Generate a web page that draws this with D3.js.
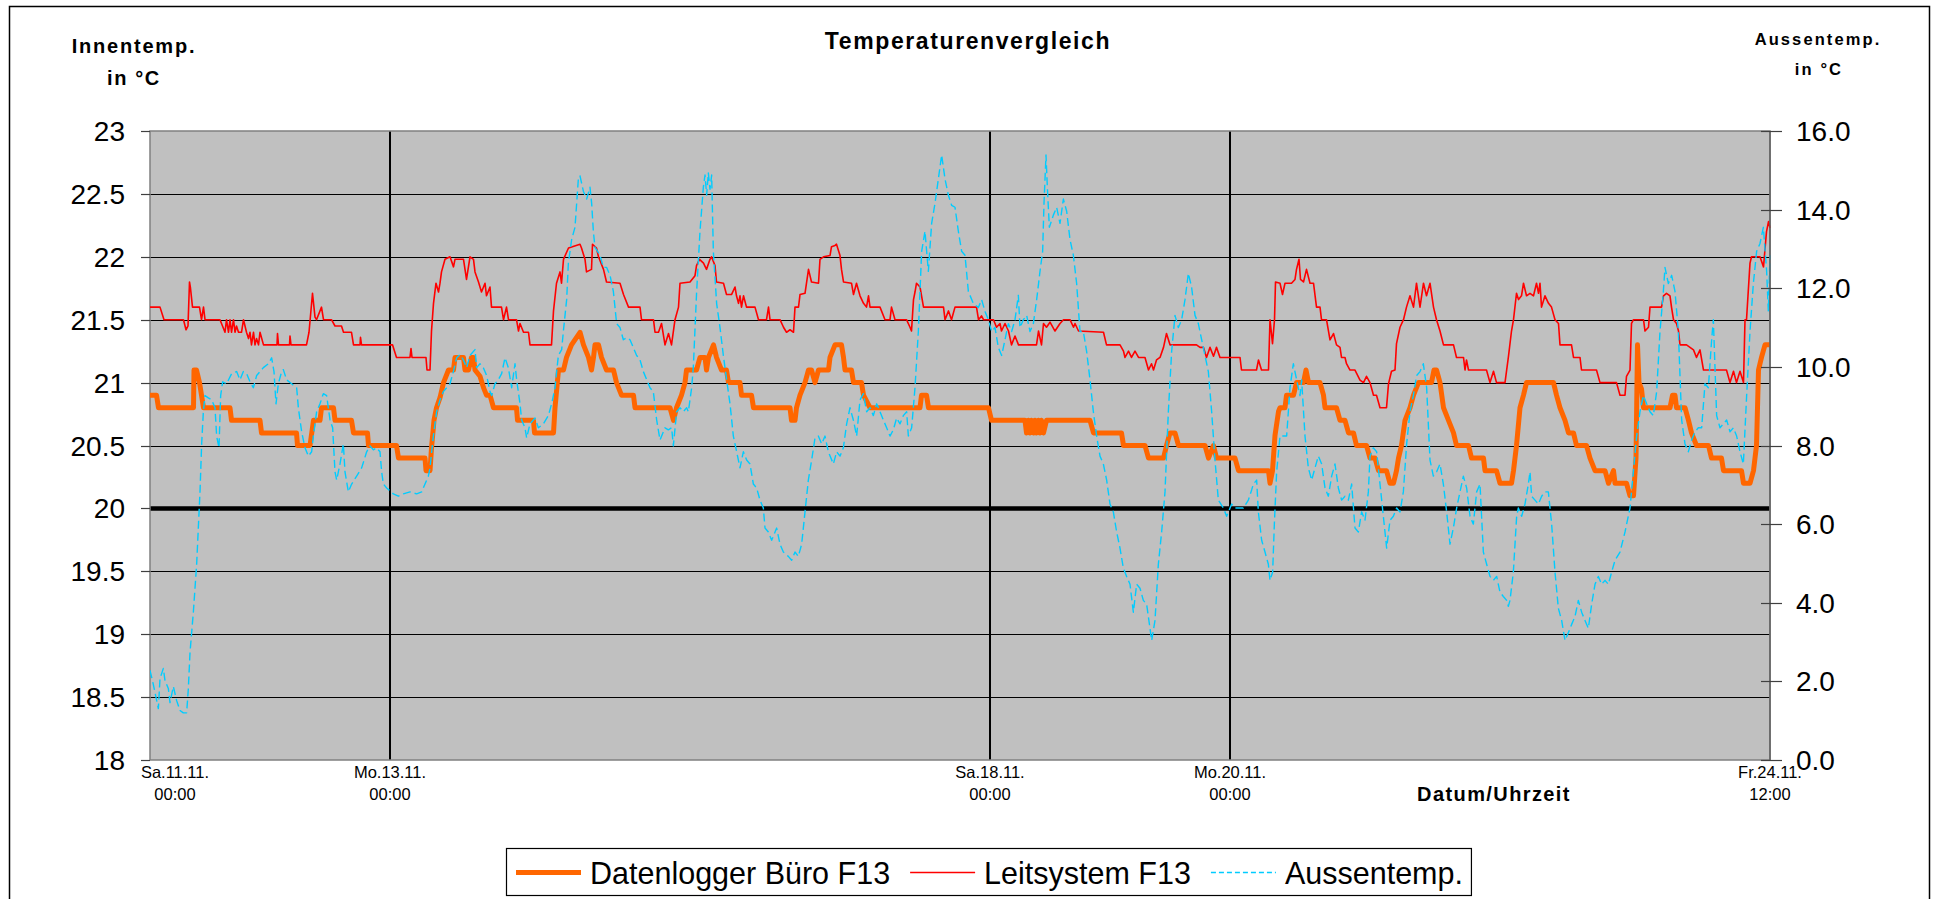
<!DOCTYPE html>
<html>
<head>
<meta charset="utf-8">
<title>Temperaturenvergleich</title>
<script src="https://cdn.jsdelivr.net/npm/d3@7"></script>
<style>
  body { margin: 0; background: #ffffff; }
  svg { display: block; font-family: "Liberation Sans", Arial, Helvetica, sans-serif; }
</style>
</head>
<body>
<svg id="chart" width="1936" height="899"></svg>
<script>
// ---- Data -------------------------------------------------------------
// Time is given in hours after Sa.11.11.2006 00:00.
const startTime = "2006-11-11 00:00";
const endTime = "2006-11-24 12:00";
const dateTicks = ["2006-11-11 00:00", "2006-11-13 00:00", "2006-11-18 00:00", "2006-11-20 00:00", "2006-11-24 12:00"];
const innenTicks = [18, 18.5, 19, 19.5, 20, 20.5, 21, 21.5, 22, 22.5, 23];
const aussenTicks = [0, 2, 4, 6, 8, 10, 12, 14, 16];
const referenceTemp = 20;

// Datenlogger Büro F13 [hour, °C]
const datenlogger = [
[0,20.9],[1.3,20.9],[1.7,20.8],[8.7,20.8],[8.8,21.1],[9.3,21.1],[9.9,21.0],[10.3,20.9],[10.7,20.8],[16,20.8],[16.3,20.7],[22,20.7],[22.3,20.6],[29.3,20.6],[29.5,20.5],[32,20.5],[32.7,20.7],[34,20.7],[34.3,20.8],[36.7,20.8],[37,20.7],[40.3,20.7],[40.7,20.6],[43.5,20.6],[43.7,20.5],[49.3,20.5],[49.7,20.4],[55,20.4],[55.2,20.3],[56,20.3],[56.3,20.48],[56.8,20.7],[57.3,20.8],[58,20.88],[58.7,21.0],[59.7,21.1],[60.7,21.1],[61,21.2],[62.7,21.2],[63,21.1],[63.7,21.1],[64.3,21.2],[64.7,21.2],[65,21.1],[66,21.05],[66.7,20.96],[67.3,20.9],[68,20.9],[68.7,20.8],[73.3,20.8],[73.5,20.7],[76.7,20.7],[76.9,20.6],[80.7,20.6],[81,20.8],[81.7,21.1],[82.7,21.1],[83.3,21.2],[84.3,21.3],[86,21.4],[86.7,21.3],[87.7,21.2],[88.3,21.1],[88.7,21.2],[89,21.3],[89.7,21.3],[90.3,21.2],[91.3,21.1],[92.7,21.1],[93.3,21.0],[94.3,20.9],[96.7,20.9],[97,20.8],[104,20.8],[104.7,20.7],[105.3,20.8],[106.3,20.9],[107,21.0],[107.3,21.1],[109.3,21.1],[110,21.2],[111,21.2],[111.3,21.1],[111.7,21.2],[112.7,21.3],[113.3,21.2],[114,21.13],[114.3,21.1],[115.3,21.1],[115.7,21.0],[118,21.0],[118.3,20.9],[120.3,20.9],[120.7,20.8],[128,20.8],[128.3,20.7],[129,20.7],[129.3,20.8],[130,20.9],[131,21.0],[131.7,21.1],[132.3,21.1],[133,21.0],[133.7,21.1],[135.7,21.1],[136,21.2],[137,21.3],[138.3,21.3],[138.7,21.2],[139,21.1],[140.3,21.1],[140.7,21.0],[142.3,21.0],[142.7,20.9],[144,20.8],[154,20.8],[154.3,20.9],[155.3,20.9],[155.7,20.8],[167.7,20.8],[168.3,20.7],[175,20.7],[175.3,20.6],[175.7,20.7],[176,20.6],[176.3,20.7],[176.7,20.6],[177,20.7],[177.3,20.6],[177.7,20.7],[178,20.6],[178.3,20.7],[178.7,20.6],[179.3,20.7],[188,20.7],[188.7,20.6],[194.3,20.6],[194.7,20.5],[199,20.5],[199.7,20.4],[202.7,20.4],[203.3,20.5],[204,20.6],[205,20.6],[205.7,20.5],[211,20.5],[211.7,20.4],[212.7,20.5],[213.3,20.4],[217,20.4],[217.7,20.3],[223.7,20.3],[224,20.2],[224.5,20.3],[225,20.58],[225.7,20.77],[226,20.8],[227,20.8],[227.3,20.9],[228.7,20.9],[229.3,21.0],[230.7,21.0],[231.2,21.1],[231.7,21.0],[234,21.0],[234.7,20.9],[235,20.8],[237.3,20.8],[238,20.7],[239,20.7],[239.7,20.6],[240.7,20.6],[241.3,20.5],[243.3,20.5],[244,20.4],[245,20.4],[245.7,20.3],[247.3,20.3],[248,20.2],[248.7,20.2],[249.3,20.3],[249.7,20.4],[250.3,20.5],[251,20.7],[252,20.8],[252.7,20.9],[253.7,21.0],[256.3,21.0],[256.8,21.1],[257.3,21.1],[258,21.0],[258.7,20.8],[259.7,20.7],[260.7,20.6],[261.3,20.5],[263.7,20.5],[264.3,20.4],[266.7,20.4],[267,20.3],[269.3,20.3],[270,20.2],[272.3,20.2],[272.7,20.3],[273.3,20.5],[274,20.8],[274.7,20.9],[275.3,21.0],[280.7,21.0],[281.3,20.9],[282,20.8],[283,20.7],[283.7,20.6],[284.7,20.6],[285.3,20.5],[287.3,20.5],[288,20.4],[289,20.3],[291,20.3],[291.7,20.2],[292.7,20.3],[293,20.2],[295.3,20.2],[296,20.1],[296.7,20.1],[297.2,20.4],[297.5,21.3],[297.8,21.0],[298.3,20.95],[298.7,20.8],[304,20.8],[304.5,20.9],[305,20.9],[305.3,20.8],[307,20.8],[307.7,20.7],[308.3,20.6],[309.3,20.5],[311.7,20.5],[312.3,20.4],[314.3,20.4],[314.7,20.3],[318.3,20.3],[318.7,20.2],[320,20.2],[320.7,20.3],[321.3,20.5],[321.7,21.1],[322.3,21.2],[323,21.3],[324,21.3]
];

// Leitsystem F13 [hour, °C]
const leitsystem = [
[0,21.6],[2,21.6],[2.8,21.5],[6.7,21.5],[7.2,21.42],[7.6,21.45],[7.9,21.8],[8.1,21.75],[8.5,21.6],[9.9,21.6],[10.3,21.5],[10.7,21.6],[11,21.5],[14,21.5],[14.5,21.45],[15,21.4],[15.3,21.5],[15.7,21.4],[16,21.5],[16.3,21.4],[16.7,21.5],[17,21.4],[17.3,21.45],[17.7,21.4],[18.3,21.4],[18.7,21.5],[19.3,21.4],[19.7,21.35],[20,21.4],[20.3,21.3],[20.7,21.4],[21,21.3],[21.3,21.35],[21.7,21.3],[22,21.4],[22.7,21.3],[25.4,21.3],[25.5,21.39],[25.7,21.3],[27.9,21.3],[28,21.37],[28.2,21.3],[31.3,21.3],[31.8,21.4],[32.5,21.71],[33,21.52],[33.3,21.5],[34.3,21.6],[34.7,21.5],[36.3,21.5],[37,21.45],[38.3,21.45],[38.7,21.4],[40.3,21.4],[40.7,21.3],[42,21.3],[42.1,21.36],[42.3,21.3],[48.5,21.3],[49.3,21.2],[52,21.2],[52.2,21.27],[52.4,21.2],[55.2,21.2],[55.4,21.1],[56,21.1],[56.3,21.41],[56.7,21.63],[57.2,21.79],[57.7,21.72],[58,21.79],[58.3,21.88],[59,21.98],[60,22.0],[60.7,21.92],[61,21.98],[62.7,21.98],[63.3,21.82],[64,22.0],[64.7,21.98],[65,21.88],[65.7,21.8],[66.3,21.72],[67,21.79],[67.3,21.69],[68,21.76],[68.3,21.6],[70.3,21.6],[70.7,21.5],[71.3,21.6],[71.7,21.5],[73.3,21.5],[73.7,21.41],[74,21.47],[74.7,21.4],[75.7,21.4],[76,21.3],[80.3,21.3],[80.7,21.57],[81.3,21.79],[82,21.88],[82.3,21.79],[82.7,21.98],[83.7,22.07],[86,22.1],[86.3,22.07],[87,21.98],[87.3,21.88],[88.3,21.9],[88.5,22.1],[89.3,22.07],[89.7,22.0],[90.7,21.9],[91.3,21.8],[94,21.79],[94.7,21.7],[95.7,21.6],[98,21.6],[98.3,21.5],[100.7,21.5],[101,21.4],[101.7,21.4],[102.3,21.47],[103,21.3],[103.7,21.39],[104.3,21.3],[105,21.5],[105.7,21.6],[106,21.79],[108,21.8],[109,21.85],[109.3,21.93],[109.9,21.98],[110.7,21.95],[111.3,21.9],[112,21.98],[112.3,22.0],[113,21.93],[113.3,21.8],[114.7,21.79],[115.3,21.7],[116.3,21.7],[117,21.76],[117.3,21.69],[117.7,21.63],[118,21.69],[118.3,21.6],[118.7,21.69],[119.3,21.6],[121,21.6],[121.7,21.5],[123.3,21.5],[123.7,21.6],[124,21.5],[126,21.5],[126.7,21.44],[127.3,21.4],[128,21.42],[128.7,21.4],[129,21.6],[129.7,21.6],[130,21.7],[131,21.71],[131.7,21.9],[132,21.85],[132.3,21.8],[133.7,21.79],[134,21.98],[134.7,22.0],[136,22.01],[136.3,22.08],[137,22.09],[137.3,22.1],[138,22.01],[138.3,21.9],[138.7,21.8],[140.3,21.79],[140.7,21.7],[141.3,21.79],[142,21.69],[142.7,21.63],[143.3,21.6],[143.7,21.69],[144,21.6],[146,21.6],[147,21.5],[148,21.5],[148.3,21.6],[149,21.5],[151.3,21.5],[152,21.44],[152.3,21.41],[152.7,21.66],[153,21.72],[153.3,21.79],[154,21.76],[154.7,21.6],[158.7,21.6],[159,21.5],[159.7,21.57],[160.3,21.5],[161,21.6],[165.3,21.6],[165.7,21.5],[166.3,21.53],[166.7,21.5],[168.7,21.5],[169.3,21.44],[170,21.47],[170.3,21.41],[171,21.47],[171.7,21.41],[172.3,21.3],[173,21.37],[173.7,21.3],[177.3,21.3],[177.7,21.41],[178.3,21.3],[178.7,21.47],[179.3,21.44],[180,21.48],[181,21.41],[182,21.47],[182.7,21.5],[184,21.5],[184.7,21.44],[185,21.47],[185.7,21.41],[190.7,21.4],[191.3,21.3],[194,21.3],[194.7,21.25],[195,21.2],[195.7,21.25],[196.3,21.2],[197,21.25],[197.7,21.2],[199,21.2],[199.7,21.1],[200.3,21.15],[200.7,21.1],[201.3,21.18],[202,21.2],[202.7,21.28],[203.3,21.39],[204,21.3],[209.3,21.3],[210,21.28],[210.7,21.28],[211.3,21.2],[212,21.28],[212.7,21.21],[213.3,21.28],[214,21.2],[218,21.2],[218.3,21.1],[221.3,21.1],[221.7,21.18],[222.3,21.1],[223.7,21.1],[224,21.5],[224.5,21.31],[224.9,21.5],[225.1,21.8],[226,21.79],[226.5,21.7],[227,21.79],[228.3,21.79],[229,21.82],[229.3,21.9],[229.8,21.98],[230.1,21.82],[230.7,21.8],[231.3,21.9],[232,21.79],[232.7,21.79],[233.3,21.6],[234,21.6],[234.3,21.5],[235.3,21.5],[236,21.34],[236.7,21.39],[237.3,21.3],[238,21.28],[238.3,21.2],[239,21.2],[239.3,21.15],[240,21.1],[241,21.1],[242,21.02],[242.7,21.0],[243.3,21.05],[244,21.0],[244.7,20.9],[245.3,20.9],[246,20.8],[247.3,20.8],[247.7,20.99],[248.3,21.09],[249,21.1],[249.3,21.31],[250,21.44],[250.7,21.5],[251.3,21.6],[252,21.69],[252.7,21.6],[253.3,21.79],[254,21.6],[254.7,21.79],[255.3,21.69],[256,21.79],[256.7,21.6],[257.3,21.5],[258,21.41],[258.7,21.3],[260.7,21.3],[261.3,21.2],[262.7,21.2],[263,21.1],[263.3,21.18],[263.7,21.1],[267.3,21.1],[268,21.0],[268.7,21.09],[269.3,21.0],[271,21.0],[271.7,21.21],[272.3,21.41],[272.7,21.5],[273.3,21.71],[273.7,21.66],[274.3,21.69],[274.7,21.79],[275.3,21.69],[276,21.71],[276.7,21.69],[277.3,21.79],[277.7,21.71],[278,21.79],[278.3,21.6],[279,21.69],[279.7,21.63],[280.3,21.6],[281,21.5],[281.7,21.47],[282,21.3],[284.3,21.3],[284.7,21.2],[286,21.2],[286.3,21.1],[289.3,21.1],[290,21.0],[293.3,21.0],[294,20.9],[295,20.9],[295.3,21.05],[296,21.1],[296.3,21.47],[296.7,21.5],[298.7,21.5],[299,21.41],[299.7,21.44],[300,21.6],[302.3,21.6],[302.7,21.69],[303.3,21.71],[304,21.69],[304.3,21.6],[304.7,21.5],[305.3,21.47],[305.7,21.41],[306,21.3],[307.3,21.3],[308,21.28],[308.7,21.26],[309.3,21.2],[310,21.26],[310.7,21.1],[315.3,21.1],[316,21.0],[316.7,21.09],[317.3,21.0],[318,21.09],[318.7,21.0],[319,21.5],[319.3,21.5],[320,21.95],[320.3,22.0],[322,22.0],[322.7,21.92],[323.3,22.2],[323.7,22.28],[324,22.23]
];

// Aussentemp. [hour, °C] (secondary axis)
const aussentemp = [
[0,2.28],[0.67,1.92],[1.67,1.31],[2,2.07],[2.67,2.33],[3,2.02],[3.67,1.82],[4,1.46],[4.67,1.87],[5.33,1.51],[6,1.26],[6.67,1.2],[7.33,1.2],[7.67,1.82],[8,2.73],[8.67,3.76],[9.33,4.98],[10,6.82],[10.33,8.04],[10.67,8.86],[11,9.27],[11.67,9.21],[12.33,9.16],[13,8.96],[13.33,8.24],[13.8,7.94],[14.13,9.27],[14.53,9.62],[15.33,9.57],[16.33,9.83],[17.33,9.88],[18,9.67],[18.67,9.88],[19.33,9.83],[20,9.62],[20.67,9.47],[21.33,9.78],[22.67,9.98],[23.67,10.08],[24.33,10.23],[24.8,9.88],[25.2,9.06],[25.67,9.57],[26.33,9.88],[26.67,9.93],[27.33,9.67],[28.33,9.57],[29.33,9.47],[29.67,8.96],[30.33,8.35],[31,7.94],[31.67,7.73],[32.33,7.84],[32.67,8.24],[33.33,8.86],[34,9.06],[34.67,9.32],[35.33,9.27],[36,8.65],[36.53,8.45],[37,7.33],[37.33,7.12],[38,7.53],[38.67,8.04],[39,7.33],[39.67,6.82],[40.33,7.02],[41.33,7.22],[42.33,7.43],[43.33,7.84],[44,7.99],[44.67,7.89],[45.33,7.94],[46,7.84],[46.33,7.33],[46.67,7.02],[47.33,6.92],[48.67,6.77],[49.67,6.71],[50.67,6.77],[52,6.82],[53.33,6.77],[54.33,6.82],[55,7.02],[55.67,7.22],
[56,7.43],[56.67,8.24],[57.33,8.86],[58,9.16],[58.67,9.37],[59.33,9.47],[60,9.57],[60.67,9.88],[61.33,10.23],[62,10.31],[62.67,10.18],[63.33,9.98],[64,10.29],[65,10.44],[65.33,9.98],[66,10.08],[66.67,9.98],[67.33,9.78],[68,9.37],[68.33,9.27],[69,9.57],[69.67,9.67],[70.33,9.83],[71,10.23],[71.67,9.98],[72.33,9.47],[73,10.08],[73.33,9.67],[74,9.06],[74.33,8.65],[75,8.45],[75.33,8.19],[76,8.55],[77,8.7],[77.67,8.45],[78.67,8.55],[79.67,8.76],[80.33,9.06],[81,9.47],[81.67,10.29],[82.33,10.44],[82.67,10.9],[83.33,11.71],[83.67,12.63],[84.33,13.24],[85,13.55],[85.67,14.78],[86,14.86],[86.67,14.47],[87.33,14.27],[88,14.57],[88.33,14.16],[88.67,13.45],[89,13.04],[90,12.84],[90.67,12.53],[91.33,12.53],[92,12.33],[92.67,11.92],[93.33,11.1],[94,11.0],[94.67,10.69],[95.33,10.74],[96,10.69],[96.67,10.49],[97.33,10.29],[98,10.18],[98.67,9.88],[100,9.47],[100.67,9.37],[101.33,8.65],[102,8.14],[103,8.45],[103.67,8.4],[104.33,8.45],[104.67,7.99],[105.33,8.86],[106,8.96],[106.67,8.86],[107.33,8.96],[107.67,8.86],[108.33,9.47],[108.67,10.0],
[109.33,11.92],[110,13.45],[110.67,14.57],[111,14.88],[111.33,14.37],[111.67,14.93],[112,14.52],[112.33,14.88],[112.67,12.94],[113.33,11.61],[114,11.0],[114.67,10.29],[115.33,9.67],[116,9.06],[116.67,8.24],[117.33,7.84],[118,7.43],[118.67,7.84],[119.33,7.63],[120,7.53],[120.67,7.02],[121.33,6.92],[122,6.61],[122.67,6.41],[123,5.9],[123.67,5.8],[124.33,5.59],[125.33,5.9],[126,5.49],[126.67,5.29],[127.67,5.18],[128.33,5.08],[129,5.29],[129.67,5.18],[130.33,5.49],[131,6.31],[131.67,7.12],[132.33,7.63],[133,8.19],[133.67,8.24],[134.33,8.04],[135,8.24],[135.67,7.84],[136.67,7.53],[137.33,7.84],[138,7.73],[138.67,7.94],[139.33,8.55],[140,8.96],[140.67,8.65],[141.33,8.24],[142,9.16],[142.67,9.32],[143.33,8.86],[144,8.96],[144.67,8.76],[145.33,9.06],[146,8.86],[146.67,8.65],[147.33,8.45],[148,8.24],[148.67,8.4],[149.33,8.7],[150,8.55],[150.67,8.76],[151.33,8.86],[151.67,8.24],[152.33,8.45],[153,9.47],[153.67,10.9],[154.33,12.94],[155,13.45],[155.33,12.94],[155.67,12.43],[156.33,13.65],[157,14.16],[157.67,14.78],[158.33,15.39],[159,14.78],[159.67,14.37],[160.33,14.11],[161,14.06],[161.67,13.45],[162.33,12.94],[163,12.84],[163.67,11.92],
[164.67,11.61],[165.67,11.51],[166.33,11.71],[167,11.41],[167.67,11.2],[168.33,10.9],[169,11.0],[169.67,10.49],[170.33,10.29],[171,10.69],[171.67,11.1],[172.33,10.9],[173,11.2],[173.67,11.82],[174,11.0],[174.67,11.2],[175.33,11.31],[176,10.9],[176.67,11.1],[177.33,11.71],[178,12.43],[178.53,12.94],[178.8,14.16],[179.2,15.39],[179.47,14.57],[179.87,13.55],[180.67,13.86],[181.33,14.06],[182,13.65],[182.67,14.27],[183.33,13.96],[184,13.24],[184.67,12.84],[185.33,12.12],[186,10.9],[186.67,10.9],[187.33,10.39],[188,9.67],[188.67,8.86],[189.33,8.24],[190,7.73],[190.67,7.53],[191.33,7.12],[192,6.51],[192.67,6.31],[193.33,5.8],[194,5.39],[194.67,4.88],[195.33,4.67],[196,4.47],[196.67,3.76],[197.33,4.47],[198,4.37],[198.67,4.06],[199.33,3.96],[200,3.35],[200.33,3.04],[201,3.55],[201.67,4.98],[202.33,5.8],[203,6.82],[203.67,8.86],[204.33,10.39],[205,11.31],[205.67,11.0],[206.33,11.2],[207,11.71],[207.67,12.38],[208.33,12.02],[209,11.31],[209.67,11.1],[210.33,10.69],[211,10.29],[211.67,9.88],[212.33,8.86],[213,7.63],[213.67,6.61],[214.67,6.41],[215.33,6.2],[216.33,6.51],[217,6.41],
[218.67,6.41],[219.67,6.61],[220.33,6.87],[220.67,7.02],[221.33,7.12],[221.67,6.31],[222.33,5.59],[223,5.29],[223.67,4.98],[224,4.57],[224.53,4.78],[224.87,6.0],[225.33,7.33],[226,8.24],[226.67,8.24],[227.33,8.24],[228,9.47],[228.67,10.08],[229.33,9.67],[230,9.27],[230.33,9.67],[231,8.24],[231.67,7.43],[232.33,7.12],[233,7.43],[233.67,7.73],[234.33,7.53],[235,6.92],[235.67,6.71],[236.33,7.22],[237,7.53],[237.67,6.92],[238.33,6.61],[239,6.71],[239.67,6.61],[240.33,7.02],[241,5.9],[241.67,5.8],[242.33,6.31],[243,6.1],[243.67,6.82],[244,7.73],[244.67,7.94],[245.33,7.84],[246,7.02],[246.67,6.2],[247.33,5.39],[248,6.1],[248.67,6.2],[249.33,6.41],[250,6.31],[250.67,6.82],[251.33,8.04],[252,8.86],[252.67,9.27],[253.33,9.78],[254,9.88],[254.67,10.08],[255.33,9.47],[256,7.63],[256.67,7.22],[257.33,7.33],[258,7.53],[258.67,7.02],[259.33,6.31],[260,5.49],[260.67,5.9],[261.33,6.41],[262,6.82],[262.67,7.22],[263.33,6.92],[264,6.2],[264.67,6.0],[265.33,6.82],[266,7.02],[266.67,5.29],[267.33,4.98],[268,4.67],[268.67,4.57],[269.33,4.67],[270,4.27],[270.67,4.16],[271.33,4.06],
[271.67,3.91],[272,4.06],[272.67,4.78],[273,5.49],[273.33,6.2],[273.67,6.41],[274.33,6.2],[275,6.51],[275.67,7.02],[276,7.33],[276.33,6.71],[277,6.61],[277.67,6.51],[278.33,6.71],[279,6.82],[279.67,6.82],[280.33,6.0],[281,4.78],[281.67,3.86],[282.33,3.55],[283,3.04],[283.67,3.24],[284.33,3.45],[285,3.65],[285.67,4.06],[286.33,3.76],[287,3.55],[287.67,3.35],[288.33,3.96],[289,4.47],[289.67,4.67],[290.33,4.47],[291,4.57],[291.67,4.47],[292.33,4.78],[293,5.08],[294,5.29],[295,5.8],[296,6.41],[296.67,7.33],[297.33,8.24],[298,8.86],[298.67,9.27],[299.33,9.06],[300,8.86],[300.67,8.76],[301.33,9.37],[302,10.9],[302.67,11.92],[303,12.53],[303.67,12.12],[304.33,12.33],[305,11.92],[305.67,10.9],[306.33,8.65],[307,8.04],[307.67,7.84],[308.33,8.14],[309,8.35],[309.67,8.45],[310.33,8.45],[311,9.57],[311.67,9.47],[312.33,10.69],[312.67,11.2],[313.33,8.76],[314,8.45],[314.67,8.55],[315.33,8.65],[316,8.35],[316.67,8.45],[317.33,8.24],[318,7.84],[318.67,7.53],[319.33,9.27],[320,10.9],[320.67,12.12],[321.33,12.94],[322,13.14],[322.67,13.55],[323.33,12.43],[323.67,11.41],[324,12.84]
];

const seriesNames = ["Datenlogger Büro F13", "Leitsystem F13", "Aussentemp."];

// ---- Layout & style ---------------------------------------------------
const W = 1936, H = 899;
const plot = { left: 150, right: 1770, top: 131, bottom: 760 };
const style = {
  datenlogger: { color: "#ff6600", width: 5, dash: null },
  leitsystem:  { color: "#ff0000", width: 1.6, dash: null },
  aussentemp:  { color: "#00ccff", width: 1.4, dash: "8,4" }
};

const parseTime = d3.utcParse("%Y-%m-%d %H:%M");
const t0 = parseTime(startTime);
const t1 = parseTime(endTime);
const atHour = h => new Date(t0.getTime() + h * 3600e3);

const de = d3.timeFormatLocale({
  dateTime: "%A, %e. %B %Y, %X", date: "%d.%m.%Y", time: "%H:%M:%S",
  periods: ["AM", "PM"],
  days: ["Sonntag","Montag","Dienstag","Mittwoch","Donnerstag","Freitag","Samstag"],
  shortDays: ["So","Mo","Di","Mi","Do","Fr","Sa"],
  months: ["Januar","Februar","März","April","Mai","Juni","Juli","August","September","Oktober","November","Dezember"],
  shortMonths: ["Jan","Feb","Mär","Apr","Mai","Jun","Jul","Aug","Sep","Okt","Nov","Dez"]
});
const fmtDay = de.utcFormat("%a.%d.%m.");
const fmtClock = de.utcFormat("%H:%M");

// ---- Scales -----------------------------------------------------------
const x = d3.scaleUtc().domain([t0, t1]).range([plot.left, plot.right]);
const yInnen = d3.scaleLinear().domain([18, 23]).range([plot.bottom, plot.top]);
const yAussen = d3.scaleLinear().domain([0, 16]).range([plot.bottom, plot.top]);

const svg = d3.select("#chart");

// Outer chart frame
svg.append("rect")
  .attr("x", 9.5).attr("y", 6.5).attr("width", 1920).attr("height", 910)
  .attr("fill", "#ffffff").attr("stroke", "#000000").attr("stroke-width", 1.5);

// Plot area
svg.append("rect")
  .attr("x", plot.left).attr("y", plot.top)
  .attr("width", plot.right - plot.left).attr("height", plot.bottom - plot.top)
  .attr("fill", "#c0c0c0");

// Horizontal gridlines (inner axis ticks)
svg.append("g").selectAll("line")
  .data(innenTicks.filter(v => v > 18 && v < 23))
  .join("line")
  .attr("x1", plot.left).attr("x2", plot.right)
  .attr("y1", d => Math.round(yInnen(d)) + 0.5).attr("y2", d => Math.round(yInnen(d)) + 0.5)
  .attr("stroke", "#000000").attr("stroke-width", 1.2);

// Vertical gridlines at the interior date ticks
const tickDates = dateTicks.map(parseTime);
svg.append("g").selectAll("line")
  .data(tickDates.filter(d => d > t0 && d < t1))
  .join("line")
  .attr("x1", d => x(d)).attr("x2", d => x(d))
  .attr("y1", plot.top).attr("y2", plot.bottom)
  .attr("stroke", "#000000").attr("stroke-width", 2);

// Reference line at 20 °C
svg.append("line")
  .attr("x1", plot.left).attr("x2", plot.right)
  .attr("y1", yInnen(referenceTemp)).attr("y2", yInnen(referenceTemp))
  .attr("stroke", "#000000").attr("stroke-width", 4.5);

// Plot frame
svg.append("rect")
  .attr("x", plot.left).attr("y", plot.top)
  .attr("width", plot.right - plot.left).attr("height", plot.bottom - plot.top)
  .attr("fill", "none").attr("stroke", "#808080").attr("stroke-width", 1.5);

// ---- Series -----------------------------------------------------------
svg.append("clipPath").attr("id", "plotClip").append("rect")
  .attr("x", plot.left).attr("y", plot.top - 2)
  .attr("width", plot.right - plot.left + 2).attr("height", plot.bottom - plot.top + 4);

const series = svg.append("g").attr("clip-path", "url(#plotClip)");
const lineInnen = d3.line().x(d => x(atHour(d[0]))).y(d => yInnen(d[1]));
const lineAussen = d3.line().x(d => x(atHour(d[0]))).y(d => yAussen(d[1]));

function drawSeries(data, gen, st) {
  series.append("path")
    .attr("d", gen(data))
    .attr("fill", "none")
    .attr("stroke", st.color)
    .attr("stroke-width", st.width)
    .attr("stroke-linejoin", "round")
    .attr("stroke-linecap", "butt")
    .attr("stroke-dasharray", st.dash);
}
drawSeries(datenlogger, lineInnen, style.datenlogger);
drawSeries(leitsystem, lineInnen, style.leitsystem);
drawSeries(aussentemp, lineAussen, style.aussentemp);

// ---- Axes -------------------------------------------------------------
const axisColor = "#404040";
// Left axis
const gL = svg.append("g");
gL.selectAll("line").data(innenTicks).join("line")
  .attr("x1", plot.left - 9).attr("x2", plot.left)
  .attr("y1", d => Math.round(yInnen(d)) + 0.5).attr("y2", d => Math.round(yInnen(d)) + 0.5)
  .attr("stroke", axisColor).attr("stroke-width", 1.2);
gL.selectAll("text").data(innenTicks).join("text")
  .attr("x", plot.left - 25).attr("y", d => yInnen(d))
  .attr("dy", "0.36em").attr("text-anchor", "end")
  .attr("font-size", 28).attr("fill", "#000")
  .text(d => String(d));

// Right axis
const gR = svg.append("g");
gR.append("line")
  .attr("x1", plot.right).attr("x2", plot.right)
  .attr("y1", plot.top).attr("y2", plot.bottom)
  .attr("stroke", "#606060").attr("stroke-width", 1.5);
gR.selectAll("line.tick").data(aussenTicks).join("line").attr("class", "tick")
  .attr("x1", plot.right - 9).attr("x2", plot.right + 12)
  .attr("y1", d => Math.round(yAussen(d)) + 0.5).attr("y2", d => Math.round(yAussen(d)) + 0.5)
  .attr("stroke", axisColor).attr("stroke-width", 1.2);
gR.selectAll("text").data(aussenTicks).join("text")
  .attr("x", plot.right + 26).attr("y", d => yAussen(d))
  .attr("dy", "0.36em").attr("text-anchor", "start")
  .attr("font-size", 28).attr("fill", "#000")
  .text(d3.format(".1f"));

// Bottom axis labels (date / time)
const gB = svg.append("g");
tickDates.forEach((d, i) => {
  const cx = i === 0 ? x(d) + 25 : x(d);
  const t = gB.append("text")
    .attr("x", cx).attr("text-anchor", "middle")
    .attr("font-size", 16.5).attr("fill", "#000");
  t.append("tspan").attr("x", cx).attr("y", 778).text(fmtDay(d));
  t.append("tspan").attr("x", cx).attr("y", 800).text(fmtClock(d));
});

// ---- Titles -----------------------------------------------------------
function boldText(txt, cx, y, size, spacing) {
  svg.append("text")
    .attr("x", cx).attr("y", y).attr("text-anchor", "middle")
    .attr("font-size", size).attr("font-weight", "bold")
    .style("letter-spacing", spacing + "px")
    .attr("fill", "#000").text(txt);
}
boldText("Temperaturenvergleich", 968, 49, 23, 1.6);
boldText("Innentemp.", 134, 53, 20, 1.8);
boldText("in °C", 134, 85, 20, 1.6);
boldText("Aussentemp.", 1818, 45, 16.5, 2.1);
boldText("in °C", 1819, 75, 16.5, 2.1);
boldText("Datum/Uhrzeit", 1494, 801, 20, 1.4);

// ---- Legend -----------------------------------------------------------
const legend = svg.append("g");
const legendBox = legend.append("rect")
  .attr("x", 506.5).attr("y", 848.5).attr("height", 47)
  .attr("fill", "#ffffff").attr("stroke", "#000000").attr("stroke-width", 1.2);
const legendStyles = [style.datenlogger, style.leitsystem, style.aussentemp];
let lx = 516;
seriesNames.forEach((name, i) => {
  const st = legendStyles[i];
  legend.append("line")
    .attr("x1", lx).attr("x2", lx + 65).attr("y1", 872.5).attr("y2", 872.5)
    .attr("stroke", st.color).attr("stroke-width", st.width)
    .attr("stroke-dasharray", st.dash ? "5,3" : null);
  const t = legend.append("text")
    .attr("x", lx + 74).attr("y", 883.5)
    .attr("font-size", 30.5).attr("fill", "#000").text(name);
  lx += 74 + t.node().getComputedTextLength() + 20;
});
legendBox.attr("width", lx - 506 - 12);
</script>
</body>
</html>
